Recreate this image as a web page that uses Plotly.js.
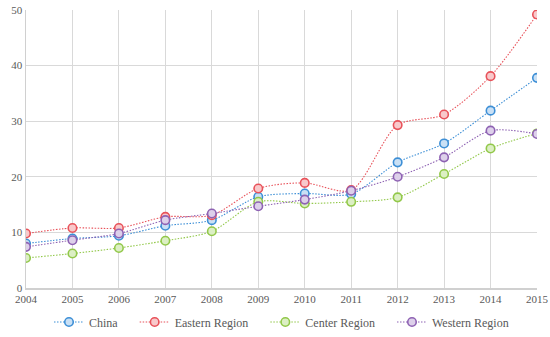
<!DOCTYPE html>
<html>
<head>
<meta charset="utf-8">
<script src="https://cdn.plot.ly/plotly-3.0.1.min.js"></script>
<style>html,body{margin:0;padding:0;background:#fff;}#chart{width:550px;height:337px;}</style>
</head>
<body>
<div id="chart"></div>
<script>
var years = [2004, 2005, 2006, 2007, 2008, 2009, 2010, 2011, 2012, 2013, 2014, 2015];
var china = [8.0, 8.9, 9.4, 11.2, 12.2, 16.4, 17.0, 16.9, 22.6, 26.0, 31.9, 37.8];
var eastern = [9.8, 10.8, 10.8, 12.8, 13.1, 17.9, 18.9, 17.6, 29.3, 31.2, 38.1, 49.2];
var center = [5.4, 6.2, 7.2, 8.5, 10.2, 15.5, 15.2, 15.5, 16.3, 20.5, 25.1, 27.8];
var western = [7.4, 8.6, 9.8, 12.2, 13.4, 14.7, 15.9, 17.5, 20.0, 23.5, 28.3, 27.7];
var seriesNames = ["China", "Eastern Region", "Center Region", "Western Region"];

var lineColors = ["#3d8fd6", "#e8525a", "#92c84a", "#8e62b3"];
var fillColors = ["#c9e0f5", "#f8c9cb", "#dcefc4", "#ddd0ea"];
var data = [china, eastern, center, western];

var serif = "Liberation Serif";
var pad = "\u00a0\u00a0\u00a0\u00a0";

var traces = data.map(function (vals, i) {
  return {
    x: years,
    y: vals,
    name: seriesNames[i] + (i < 3 ? pad : ""),
    type: "scatter",
    mode: "lines+markers",
    line: {color: lineColors[i], width: 1.1, dash: "1.5px,1.5px", shape: "spline", smoothing: 0.8},
    marker: {symbol: "circle", size: 8.5, color: fillColors[i], line: {color: lineColors[i], width: 1.6}}
  };
});

var layout = {
  width: 550,
  height: 337,
  margin: {l: 26, r: 13, t: 10, b: 49, autoexpand: false},
  paper_bgcolor: "#ffffff",
  plot_bgcolor: "#ffffff",
  font: {family: serif, size: 11, color: "#595959"},
  showlegend: true,
  legend: {
    orientation: "h",
    x: 0.5, xanchor: "center",
    y: -0.07, yanchor: "top",
    font: {family: serif, size: 12, color: "#595959"},
    itemwidth: 30,
    traceorder: "normal"
  },
  xaxis: {
    range: [2004, 2015],
    tickmode: "array",
    tickvals: years,
    ticktext: years.map(String),
    showgrid: true,
    gridcolor: "#d9d9d9",
    gridwidth: 1,
    showline: true,
    linecolor: "#d0d0d0",
    linewidth: 1.5,
    zeroline: false,
    ticks: "",
    automargin: false,
    tickfont: {family: serif, size: 11, color: "#595959"},
    fixedrange: true
  },
  yaxis: {
    range: [0, 50],
    dtick: 10,
    tick0: 0,
    showgrid: true,
    gridcolor: "#d9d9d9",
    gridwidth: 1,
    showline: true,
    linecolor: "#d0d0d0",
    linewidth: 1.5,
    zeroline: false,
    ticks: "",
    automargin: false,
    tickfont: {family: serif, size: 11, color: "#595959"},
    fixedrange: true
  }
};

Plotly.newPlot("chart", traces, layout, {displayModeBar: false, staticPlot: true});
</script>
</body>
</html>
